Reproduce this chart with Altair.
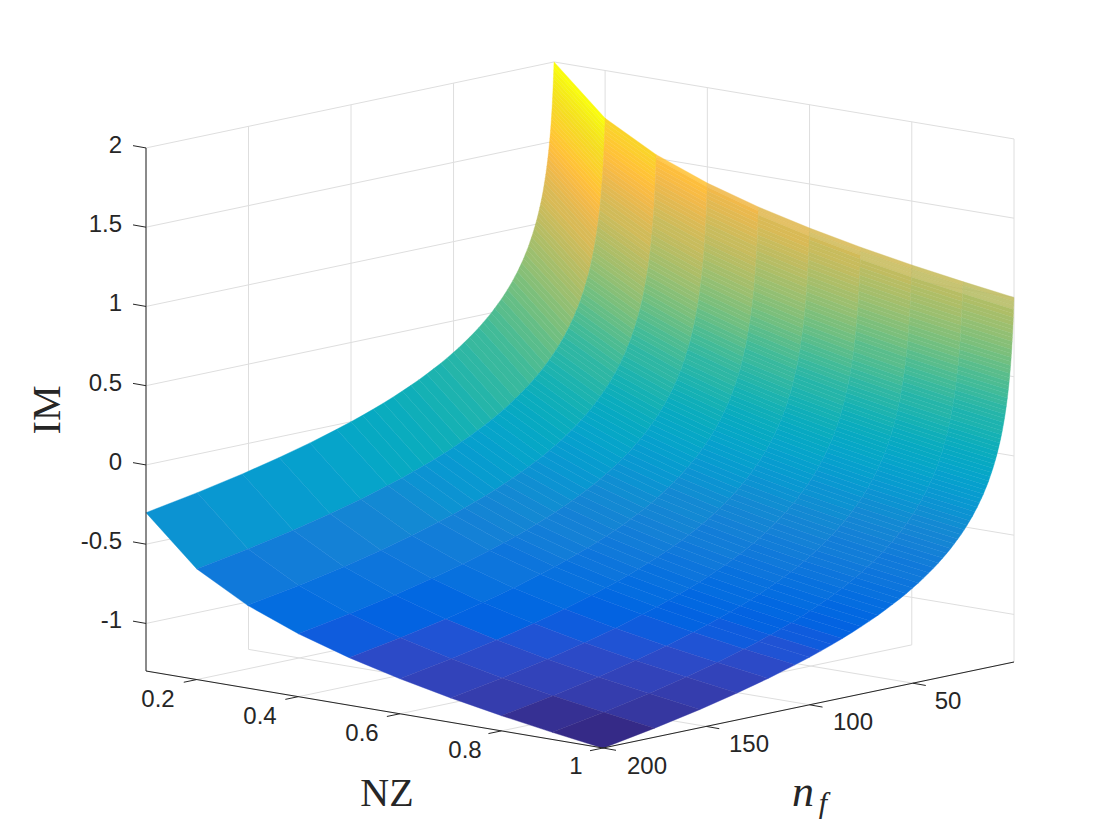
import altair as alt
import pandas as pd

nz_values = [0.1, 0.2, 0.3, 0.4, 0.5, 0.6, 0.7, 0.8, 0.9, 1.0]
nf_values = [200, 175, 153, 135, 120, 107,
             100, 94.4, 89.1, 84.1, 79.4, 75.0, 70.8, 66.8, 63.1, 59.6, 56.2, 53.1, 50.1, 47.3, 44.7, 42.2,
             39.8, 37.6, 35.5, 33.5, 31.6, 29.9, 28.2, 26.6, 25.1, 23.7, 22.4, 21.1, 20.0, 18.8, 17.8, 16.8,
             15.8, 15.0, 14.1, 13.3, 12.6, 11.9, 11.2, 10.6, 10.0, 9.44, 8.91, 8.41, 7.94, 7.50, 7.08, 6.68,
             6.31, 5.96, 5.62, 5.31, 5.01, 4.73, 4.47, 4.22, 3.98, 3.76, 3.55, 3.35, 3.16, 2.99, 2.82, 2.66,
             2.51, 2.37, 2.24, 2.11, 2.00, 1.88, 1.78, 1.68, 1.58, 1.50, 1.41, 1.33, 1.26, 1.19, 1.12, 1.06, 1.0]

im_nz_01 = [-.301,-.243,-.185,-.13,-.079,-.029,
 0,.025,.05,.075,.1,.125,.15,.175,.2,.225,.25,.275,.3,.325,.35,.375,.4,.425,.45,.475,.5,.525,.55,.575,.6,.625,.65,.675,.7,.725,.75,.775,.8,.825,.85,.875,.9,.925,.95,.975,1.0,1.025,1.05,1.075,1.1,1.125,1.15,1.175,1.2,1.225,1.25,1.275,1.3,1.325,1.35,1.375,1.4,1.425,1.45,1.475,1.5,1.525,1.55,1.575,1.6,1.625,1.65,1.675,1.7,1.725,1.75,1.775,1.8,1.825,1.85,1.875,1.9,1.925,1.95,1.975,2.0]
im_nz_02 = [-.602,-.544,-.486,-.431,-.38,-.33,
 -.301,-.276,-.251,-.226,-.201,-.176,-.151,-.126,-.101,-.076,-.051,-.026,-.001,.024,.049,.074,.099,.124,.149,.174,.199,.224,.249,.274,.299,.324,.349,.374,.399,.424,.449,.474,.499,.524,.549,.574,.599,.624,.649,.674,.699,.724,.749,.774,.799,.824,.849,.874,.899,.924,.949,.974,.999,1.024,1.049,1.074,1.099,1.124,1.149,1.174,1.199,1.224,1.249,1.274,1.299,1.324,1.349,1.374,1.399,1.424,1.449,1.474,1.499,1.524,1.549,1.574,1.599,1.624,1.649,1.674,1.699]
im_nz_03 = [-.778,-.72,-.662,-.607,-.556,-.506,
 -.477,-.452,-.427,-.402,-.377,-.352,-.327,-.302,-.277,-.252,-.227,-.202,-.177,-.152,-.127,-.102,-.077,-.052,-.027,-.002,.023,.048,.073,.098,.123,.148,.173,.198,.223,.248,.273,.298,.323,.348,.373,.398,.423,.448,.473,.498,.523,.548,.573,.598,.623,.648,.673,.698,.723,.748,.773,.798,.823,.848,.873,.898,.923,.948,.973,.998,1.023,1.048,1.073,1.098,1.123,1.148,1.173,1.198,1.223,1.248,1.273,1.298,1.323,1.348,1.373,1.398,1.423,1.448,1.473,1.498,1.523]
im_nz_04 = [-.903,-.845,-.787,-.732,-.681,-.631,
 -.602,-.577,-.552,-.527,-.502,-.477,-.452,-.427,-.402,-.377,-.352,-.327,-.302,-.277,-.252,-.227,-.202,-.177,-.152,-.127,-.102,-.077,-.052,-.027,-.002,.023,.048,.073,.098,.123,.148,.173,.198,.223,.248,.273,.298,.323,.348,.373,.398,.423,.448,.473,.498,.523,.548,.573,.598,.623,.648,.673,.698,.723,.748,.773,.798,.823,.848,.873,.898,.923,.948,.973,.998,1.023,1.048,1.073,1.098,1.123,1.148,1.173,1.198,1.223,1.248,1.273,1.298,1.323,1.348,1.373,1.398]
im_nz_05 = [-1.0,-.942,-.884,-.829,-.778,-.728,
 -.699,-.674,-.649,-.624,-.599,-.574,-.549,-.524,-.499,-.474,-.449,-.424,-.399,-.374,-.349,-.324,-.299,-.274,-.249,-.224,-.199,-.174,-.149,-.124,-.099,-.074,-.049,-.024,.001,.026,.051,.076,.101,.126,.151,.176,.201,.226,.251,.276,.301,.326,.351,.376,.401,.426,.451,.476,.501,.526,.551,.576,.601,.626,.651,.676,.701,.726,.751,.776,.801,.826,.851,.876,.901,.926,.951,.976,1.001,1.026,1.051,1.076,1.101,1.126,1.151,1.176,1.201,1.226,1.251,1.276,1.301]
im_nz_06 = [-1.079,-1.021,-.963,-.908,-.857,-.807,
 -.778,-.753,-.728,-.703,-.678,-.653,-.628,-.603,-.578,-.553,-.528,-.503,-.478,-.453,-.428,-.403,-.378,-.353,-.328,-.303,-.278,-.253,-.228,-.203,-.178,-.153,-.128,-.103,-.078,-.053,-.028,-.003,.022,.047,.072,.097,.122,.147,.172,.197,.222,.247,.272,.297,.322,.347,.372,.397,.422,.447,.472,.497,.522,.547,.572,.597,.622,.647,.672,.697,.722,.747,.772,.797,.822,.847,.872,.897,.922,.947,.972,.997,1.022,1.047,1.072,1.097,1.122,1.147,1.172,1.197,1.222]
im_nz_07 = [-1.146,-1.088,-1.03,-.975,-.924,-.874,
 -.845,-.82,-.795,-.77,-.745,-.72,-.695,-.67,-.645,-.62,-.595,-.57,-.545,-.52,-.495,-.47,-.445,-.42,-.395,-.37,-.345,-.32,-.295,-.27,-.245,-.22,-.195,-.17,-.145,-.12,-.095,-.07,-.045,-.02,.005,.03,.055,.08,.105,.13,.155,.18,.205,.23,.255,.28,.305,.33,.355,.38,.405,.43,.455,.48,.505,.53,.555,.58,.605,.63,.655,.68,.705,.73,.755,.78,.805,.83,.855,.88,.905,.93,.955,.98,1.005,1.03,1.055,1.08,1.105,1.13,1.155]
im_nz_08 = [-1.204,-1.146,-1.088,-1.033,-.982,-.932,
 -.903,-.878,-.853,-.828,-.803,-.778,-.753,-.728,-.703,-.678,-.653,-.628,-.603,-.578,-.553,-.528,-.503,-.478,-.453,-.428,-.403,-.378,-.353,-.328,-.303,-.278,-.253,-.228,-.203,-.178,-.153,-.128,-.103,-.078,-.053,-.028,-.003,.022,.047,.072,.097,.122,.147,.172,.197,.222,.247,.272,.297,.322,.347,.372,.397,.422,.447,.472,.497,.522,.547,.572,.597,.622,.647,.672,.697,.722,.747,.772,.797,.822,.847,.872,.897,.922,.947,.972,.997,1.022,1.047,1.072,1.097]
im_nz_09 = [-1.255,-1.197,-1.139,-1.084,-1.033,-.983,
 -.954,-.929,-.904,-.879,-.854,-.829,-.804,-.779,-.754,-.729,-.704,-.679,-.654,-.629,-.604,-.579,-.554,-.529,-.504,-.479,-.454,-.429,-.404,-.379,-.354,-.329,-.304,-.279,-.254,-.229,-.204,-.179,-.154,-.129,-.104,-.079,-.054,-.029,-.004,.021,.046,.071,.096,.121,.146,.171,.196,.221,.246,.271,.296,.321,.346,.371,.396,.421,.446,.471,.496,.521,.546,.571,.596,.621,.646,.671,.696,.721,.746,.771,.796,.821,.846,.871,.896,.921,.946,.971,.996,1.021,1.046]
im_nz_10 = [-1.301,-1.243,-1.185,-1.13,-1.079,-1.029,
 -1.0,-.975,-.95,-.925,-.9,-.875,-.85,-.825,-.8,-.775,-.75,-.725,-.7,-.675,-.65,-.625,-.6,-.575,-.55,-.525,-.5,-.475,-.45,-.425,-.4,-.375,-.35,-.325,-.3,-.275,-.25,-.225,-.2,-.175,-.15,-.125,-.1,-.075,-.05,-.025,0,.025,.05,.075,.1,.125,.15,.175,.2,.225,.25,.275,.3,.325,.35,.375,.4,.425,.45,.475,.5,.525,.55,.575,.6,.625,.65,.675,.7,.725,.75,.775,.8,.825,.85,.875,.9,.925,.95,.975,1.0]
im_table = [im_nz_01, im_nz_02, im_nz_03, im_nz_04, im_nz_05, im_nz_06, im_nz_07, im_nz_08, im_nz_09, im_nz_10]

# Along the top edge the mesh is finer than a pixel and lets some white through
speckle_nf_limit = [0, 1.0, 1.06, 1.06, 1.12, 1.12, 1.19, 1.19, 1.19]

im_ticks = [-1, -0.5, 0, 0.5, 1, 1.5, 2]
im_labels = ["-1", "-0.5", "0", "0.5", "1", "1.5", "2"]
nz_ticks = [0.2, 0.4, 0.6, 0.8, 1.0]
nz_labels = ["0.2", "0.4", "0.6", "0.8", "1"]
nz_label_x = [158, 260, 362, 465, 576]
nz_label_y = [700, 717, 734, 751, 767]
nf_ticks = [200, 150, 100, 50]
nf_labels = ["200", "150", "100", "50"]
nf_label_x = [647, 749, 853, 948]
nf_label_y = [767, 745, 723, 702]

parula_64 = [
 (0.2081,0.1663,0.5292),(0.2116,0.1898,0.5777),(0.2123,0.2138,0.6270),(0.2081,0.2386,0.6771),
 (0.1959,0.2645,0.7279),(0.1707,0.2919,0.7792),(0.1253,0.3242,0.8303),(0.0591,0.3598,0.8683),
 (0.0117,0.3875,0.8820),(0.0060,0.4086,0.8828),(0.0165,0.4266,0.8786),(0.0329,0.4430,0.8720),
 (0.0498,0.4586,0.8641),(0.0629,0.4737,0.8554),(0.0723,0.4887,0.8467),(0.0779,0.5040,0.8384),
 (0.0793,0.5200,0.8312),(0.0749,0.5375,0.8263),(0.0641,0.5570,0.8240),(0.0488,0.5772,0.8228),
 (0.0343,0.5966,0.8199),(0.0265,0.6137,0.8135),(0.0239,0.6287,0.8038),(0.0231,0.6418,0.7913),
 (0.0228,0.6535,0.7768),(0.0267,0.6642,0.7607),(0.0384,0.6743,0.7436),(0.0590,0.6838,0.7254),
 (0.0843,0.6928,0.7062),(0.1133,0.7015,0.6859),(0.1453,0.7098,0.6646),(0.1801,0.7177,0.6424),
 (0.2178,0.7250,0.6193),(0.2586,0.7317,0.5954),(0.3022,0.7376,0.5712),(0.3482,0.7424,0.5473),
 (0.3953,0.7459,0.5244),(0.4420,0.7481,0.5033),(0.4871,0.7491,0.4840),(0.5300,0.7491,0.4661),
 (0.5709,0.7485,0.4494),(0.6099,0.7473,0.4337),(0.6473,0.7456,0.4188),(0.6834,0.7435,0.4044),
 (0.7184,0.7411,0.3905),(0.7525,0.7384,0.3768),(0.7858,0.7356,0.3633),(0.8185,0.7327,0.3498),
 (0.8507,0.7299,0.3360),(0.8824,0.7274,0.3217),(0.9139,0.7258,0.3063),(0.9450,0.7261,0.2886),
 (0.9739,0.7314,0.2666),(0.9938,0.7455,0.2403),(0.9990,0.7653,0.2164),(0.9955,0.7861,0.1967),
 (0.9880,0.8066,0.1794),(0.9789,0.8271,0.1633),(0.9697,0.8481,0.1475),(0.9626,0.8705,0.1309),
 (0.9589,0.8949,0.1132),(0.9598,0.9218,0.0948),(0.9661,0.9514,0.0755),(0.9763,0.9831,0.0538)]
parula_hex = ["#%02x%02x%02x" % tuple(round(c * 255) for c in rgb) for rgb in parula_64]

# 3-D view: orthographic view of the box, given by its floor corners on the page
LEFT, FRONT, RIGHT, BACK = (146, 671), (603, 748), (1014, 662), (554, 585)
Z_FLOOR, PX_PER_Z = -1.30, 158.5
NZ_MIN, NZ_MAX, NF_MIN, NF_MAX = 0.1, 1.0, 1.0, 200.0


def project(nz, nf, z):
    u = (nz - NZ_MIN) / (NZ_MAX - NZ_MIN)
    v = (nf - NF_MIN) / (NF_MAX - NF_MIN)
    px = []
    for k in (0, 1):
        px.append(BACK[k] * (1 - u) * (1 - v) + RIGHT[k] * u * (1 - v)
                  + LEFT[k] * (1 - u) * v + FRONT[k] * u * v)
    return px[0], px[1] - (z - Z_FLOOR) * PX_PER_Z


# Faces, painted from the back corner towards the front corner; a face takes
# its colour from its lower-NZ, higher-n_f corner
features = []
for i in range(len(nz_values) - 1):
    for j in range(len(nf_values) - 1, 0, -1):
        corners = [(i, j), (i + 1, j), (i + 1, j - 1), (i, j - 1), (i, j)]
        ring = [list(project(nz_values[a], nf_values[b], im_table[a][b])) for a, b in corners]
        features.append({"type": "Feature",
                         "geometry": {"type": "Polygon", "coordinates": [ring]},
                         "properties": {"im": im_table[i][j - 1],
                                        "a": 0.88 if nf_values[j] < speckle_nf_limit[i] else 1.0}})

x_scale = alt.Scale(domain=[8, 1112], nice=False, zero=False)
y_scale = alt.Scale(domain=[832, 8], nice=False, zero=False)


def seg(a, b):
    return {"x": a[0], "y": a[1], "x2": b[0], "y2": b[1]}


grid = []
Z_TOP = 2
for z in im_ticks:
    grid.append(seg(project(NZ_MIN, NF_MAX, z), project(NZ_MIN, NF_MIN, z)))
    grid.append(seg(project(NZ_MIN, NF_MIN, z), project(NZ_MAX, NF_MIN, z)))
for nf in nf_ticks:
    grid.append(seg(project(NZ_MIN, nf, Z_FLOOR), project(NZ_MIN, nf, Z_TOP)))
    grid.append(seg(project(NZ_MIN, nf, Z_FLOOR), project(NZ_MAX, nf, Z_FLOOR)))
for nz in nz_ticks:
    grid.append(seg(project(nz, NF_MIN, Z_FLOOR), project(nz, NF_MIN, Z_TOP)))
    grid.append(seg(project(nz, NF_MIN, Z_FLOOR), project(nz, NF_MAX, Z_FLOOR)))

axes = [
    seg(project(NZ_MIN, NF_MAX, Z_FLOOR), project(NZ_MIN, NF_MAX, Z_TOP)),
    seg(project(NZ_MIN, NF_MAX, Z_FLOOR), project(NZ_MAX, NF_MAX, Z_FLOOR)),
    seg(project(NZ_MAX, NF_MAX, Z_FLOOR), project(NZ_MAX, NF_MIN, Z_FLOOR)),
]
for z in im_ticks:
    p = project(NZ_MIN, NF_MAX, z)
    axes.append(seg(p, (p[0] - 13, p[1] - 2.3)))
for nz in nz_ticks:
    p = project(nz, NF_MAX, Z_FLOOR)
    axes.append(seg(p, (p[0] - 13, p[1] + 2.7)))
for nf in nf_ticks:
    p = project(NZ_MAX, nf, Z_FLOOR)
    axes.append(seg(p, (p[0] + 13, p[1] + 2.3)))


def rules(rows, color, width):
    return alt.Chart(pd.DataFrame(rows)).mark_rule(color=color, strokeWidth=width).encode(
        x=alt.X("x:Q", scale=x_scale, axis=None),
        y=alt.Y("y:Q", scale=y_scale, axis=None),
        x2="x2:Q", y2="y2:Q")


def texts(rows, font, size, color="#262626", align="center", style="normal", angle=0):
    return alt.Chart(pd.DataFrame(rows)).mark_text(
        font=font, fontSize=size, color=color, align=align, baseline="middle",
        fontStyle=style, angle=angle).encode(
        x=alt.X("x:Q", scale=x_scale, axis=None),
        y=alt.Y("y:Q", scale=y_scale, axis=None),
        text="t:N")


im_label_rows = [{"x": 122, "y": project(NZ_MIN, NF_MAX, z)[1] - 2, "t": t} for z, t in zip(im_ticks, im_labels)]
nz_label_rows = [{"x": x, "y": y, "t": t} for x, y, t in zip(nz_label_x, nz_label_y, nz_labels)]
nf_label_rows = [{"x": x, "y": y, "t": t} for x, y, t in zip(nf_label_x, nf_label_y, nf_labels)]

surface = alt.Chart(alt.Data(values=features)).mark_geoshape(strokeWidth=0.4).encode(
    fill=alt.Fill("properties.im:Q", legend=None,
                  scale=alt.Scale(type="quantize", domain=[-1.301, 2], range=parula_hex)),
    stroke=alt.Stroke("properties.im:Q", legend=None,
                      scale=alt.Scale(type="quantize", domain=[-1.301, 2], range=parula_hex)),
    opacity=alt.Opacity("properties.a:Q", scale=None),
).project(type="identity", scale=1, translate=[-8, -8])

chart = alt.layer(
    rules(grid, "#dedede", 1),
    surface,
    rules(axes, "#262626", 1),
    texts(im_label_rows, "Liberation Sans", 24, align="right"),
    texts(nz_label_rows, "Liberation Sans", 24),
    texts(nf_label_rows, "Liberation Sans", 24),
    texts([{"x": 387, "y": 794, "t": "NZ"}], "Liberation Serif", 40),
    texts([{"x": 48, "y": 410, "t": "IM"}], "Liberation Serif", 40, angle=270),
    texts([{"x": 803, "y": 793, "t": "n"}], "Liberation Serif", 44, style="italic"),
    texts([{"x": 823, "y": 804, "t": "f"}], "Liberation Serif", 30, style="italic"),
).resolve_scale(fill="independent", stroke="independent").properties(
    width=1104, height=824, padding=0, autosize=alt.AutoSizeParams(type="none"),
    background="white",
).configure_view(stroke=None)

chart.save("out.html", embed_options={"renderer": "svg", "actions": False})
